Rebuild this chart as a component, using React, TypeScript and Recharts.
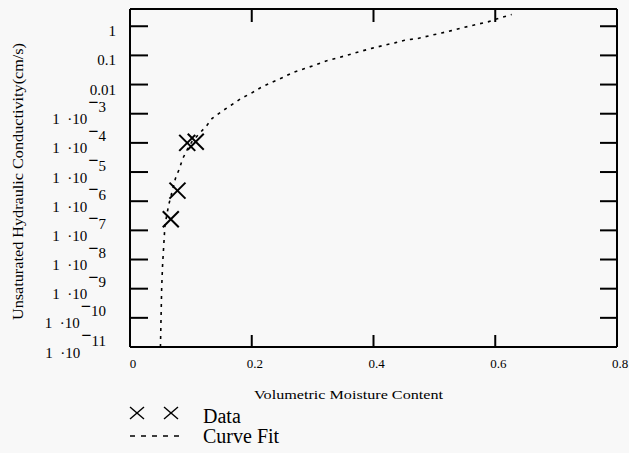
import React from 'react';
import { ComposedChart, Line, Scatter, XAxis, YAxis, Label, Legend } from 'recharts';

// measured points (moisture content vs conductivity, cm/s)
const dataTheta = [0.094, 0.108, 0.078, 0.067];
const dataK = [1.0e-4, 1.1e-4, 2.3e-6, 2.4e-7];

// fitted curve as (theta, log10 K)
const fitTheta = [0.050, 0.051, 0.052, 0.0535, 0.0574, 0.0634, 0.0745, 0.081, 0.0864, 0.0947, 0.102, 0.126, 0.135, 0.152, 0.166, 0.183, 0.199, 0.215, 0.232, 0.251, 0.267, 0.287, 0.303, 0.322, 0.342, 0.361, 0.377, 0.397, 0.416, 0.435, 0.451, 0.473, 0.493, 0.512, 0.528, 0.547, 0.569, 0.588, 0.608, 0.627];
const fitLogK = [-11, -10, -9, -8.2, -6.83, -6.14, -5.23, -4.89, -4.55, -4.2, -3.95, -3.41, -3.16, -2.9, -2.71, -2.47, -2.3, -2.1, -1.93, -1.76, -1.59, -1.45, -1.34, -1.19, -1.08, -0.97, -0.87, -0.76, -0.66, -0.57, -0.48, -0.42, -0.32, -0.23, -0.15, -0.05, 0.06, 0.15, 0.29, 0.4];

const xTicks = [0, 0.2, 0.4, 0.6, 0.8];
const yExponents = [-11, -10, -9, -8, -7, -6, -5, -4, -3, -2, -1, 0];
const yTicks = yExponents.map(e => Math.pow(10, e));
const yTickText: Record<number, string> = { 0: '1', [-1]: '0.1', [-2]: '0.01' };

const fitData = fitTheta.map((x, i) => ({ x, k: Math.pow(10, fitLogK[i]) }));
const pointData = dataTheta.map((x, i) => ({ x, k: dataK[i] }));

const FONT = '"Liberation Serif", "DejaVu Serif", serif';

const YTick = (props: any) => {
  const { y, payload } = props;
  const e = Math.round(Math.log10(payload.value));
  if (yTickText[e] !== undefined) {
    return (
      <text x={116} y={y + 10} textAnchor="end" fontSize={15} fontFamily={FONT} fill="#000">
        {yTickText[e]}
      </text>
    );
  }
  return (
    <text x={106} y={y + 10.5} textAnchor="end" fontSize={15} fontFamily={FONT} fill="#000">
      <tspan>{'1\u00A0\u00A0\u00B710'}</tspan>
      <tspan dx={1} dy={-16.5} fontSize={18} fontWeight="bold">{'\u2212'}</tspan>
      <tspan dy={4.5}>{String(-e)}</tspan>
    </text>
  );
};

const XTick = (props: any) => {
  const { x, payload } = props;
  return (
    <text x={x + 3} y={368} textAnchor="middle" fontSize={13} fontFamily={FONT} fill="#000">
      {String(payload.value)}
    </text>
  );
};

const NoLabel = () => null;

const Cross = (props: any) => {
  const { cx, cy } = props;
  const r = 8;
  return (
    <g stroke="#000" strokeWidth={2}>
      <line x1={cx - r} y1={cy - r} x2={cx + r} y2={cy + r} />
      <line x1={cx - r} y1={cy + r} x2={cx + r} y2={cy - r} />
    </g>
  );
};

const LegendBox = (props: any) => {
  const items = props.payload || [];
  const dataName = items.find((p: any) => p.type === 'cross')?.value ?? 'Data';
  const fitName = items.find((p: any) => p.type === 'line')?.value ?? 'Curve Fit';
  return (
    <svg width={200} height={53} style={{ display: 'block' }}>
      <g stroke="#000" strokeWidth={1.4}>
        <line x1={10} y1={7} x2={24} y2={19} />
        <line x1={10} y1={19} x2={24} y2={7} />
        <line x1={44} y1={7} x2={58} y2={19} />
        <line x1={44} y1={19} x2={58} y2={7} />
      </g>
      <line x1={10} y1={36} x2={60} y2={36} stroke="#000" strokeWidth={1.4} strokeDasharray="5 6" />
      <text x={83} y={23} fontSize={20} fontFamily={FONT} fill="#000">{dataName}</text>
      <text x={83} y={43} fontSize={20} fontFamily={FONT} fill="#000">{fitName}</text>
    </svg>
  );
};

export default function App() {
  return (
    <div style={{ position: 'absolute', left: 0, top: 0, width: 629, height: 453, background: '#f8f8f8' }}>
      <ComposedChart width={629} height={453} data={fitData} margin={{ top: 8, right: 11, bottom: 0, left: 0 }}>
        <XAxis
          dataKey="x"
          type="number"
          domain={[0, 0.8]}
          ticks={xTicks}
          allowDataOverflow
          height={106}
          stroke="#000"
          strokeWidth={2}
          tickSize={-12}
          tickMargin={24}
          tick={<XTick />}
        >
          <Label
            content={(p: any) => {
              const vb = p.viewBox;
              return (
                <text x={vb.x + vb.width / 2 - 25} y={399} textAnchor="middle" fontSize={13} fontFamily={FONT} fill="#000" textLength={189} lengthAdjust="spacingAndGlyphs">
                  Volumetric Moisture Content
                </text>
              );
            }}
          />
        </XAxis>
        <XAxis xAxisId="top" orientation="top" dataKey="x" type="number" domain={[0, 0.8]} allowDataOverflow ticks={xTicks} height={1} stroke="#000" strokeWidth={2} tickSize={-13} tick={<NoLabel />} />
        <YAxis
          dataKey="k"
          type="number"
          scale="log"
          domain={[1e-11, 3.9]}
          allowDataOverflow
          ticks={yTicks}
          width={130}
          stroke="#000"
          strokeWidth={2}
          tickSize={-18}
          tickMargin={32}
          tick={<YTick />}
        >
          <Label
            content={() => (
              <text x={0} y={0} transform="translate(23 181.5) rotate(-90)" textAnchor="middle" fontSize={14} fontFamily={FONT} fill="#000" textLength={277} lengthAdjust="spacingAndGlyphs">
                Unsaturated Hydraulic Conductivity(cm/s)
              </text>
            )}
          />
        </YAxis>
        <YAxis yAxisId="right" orientation="right" dataKey="k" type="number" scale="log" domain={[1e-11, 3.9]} allowDataOverflow ticks={yTicks} width={1} stroke="#000" strokeWidth={2} tickSize={-17} tick={<NoLabel />} />
        <Line dataKey="k" name="Curve Fit" type="linear" stroke="#000" strokeWidth={1.6} strokeDasharray="3 5" dot={false} legendType="line" isAnimationActive={false} />
        <Scatter data={pointData} dataKey="k" name="Data" shape={<Cross />} legendType="cross" isAnimationActive={false} />
        <Legend
          layout="vertical"
          align="center"
          verticalAlign="middle"
          content={<LegendBox />}
          wrapperStyle={{ position: 'absolute', left: 120, top: 400, width: 200, height: 53 }}
        />
      </ComposedChart>
    </div>
  );
}
